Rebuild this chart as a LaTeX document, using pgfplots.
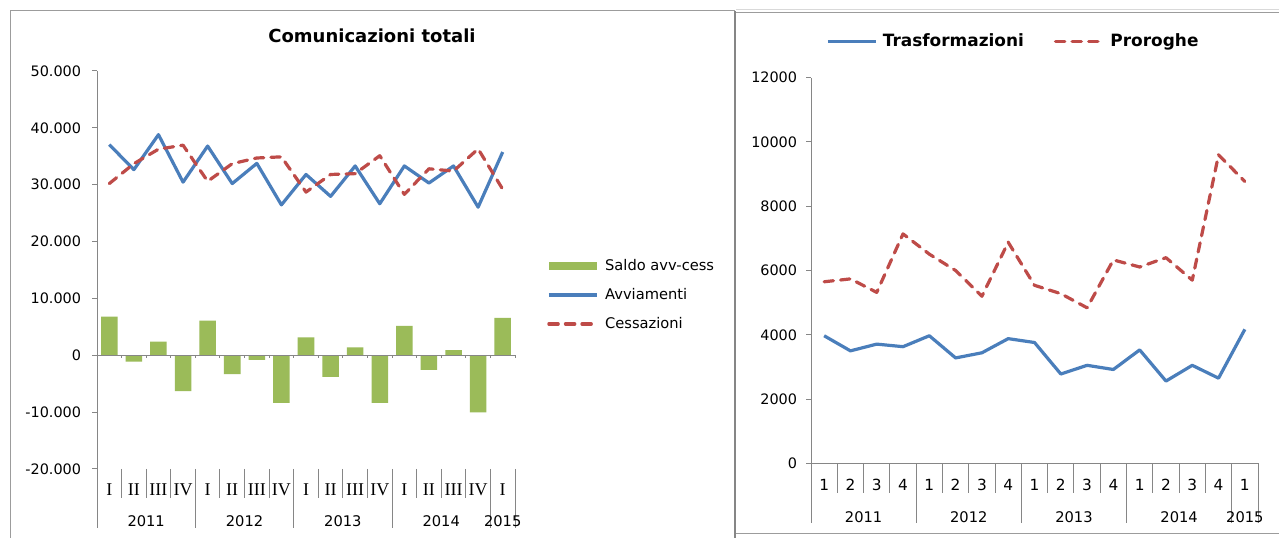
\documentclass[border=0pt]{standalone}
\usepackage{fontspec}
\setmainfont{DejaVu Sans}
\newfontfamily\romanfont{Liberation Serif}
\usepackage{pgfplots}
\pgfplotsset{compat=1.18}

\definecolor{exblue}{HTML}{4A7EBB}
\definecolor{exred}{HTML}{BE4B48}
\definecolor{exgreen}{HTML}{9BBB59}
\definecolor{axisgray}{HTML}{868686}
\definecolor{framegray}{HTML}{9C9C9C}

\pgfplotsset{
  linestyle/.style={line width=2.4pt, line join=round},
  dashstyle/.style={line width=2.4pt, line join=round, line cap=round, dash pattern=on 7pt off 5.4pt},
  lineimg/.style={legend image code/.code={\draw[##1] (0pt,0pt) -- (36pt,0pt);}},
  barimg/.style={legend image code/.code={\fill[exgreen] (0pt,-3pt) rectangle (36pt,3pt);}},
}

\begin{document}
\begin{tikzpicture}
\fill[white] (0,0) rectangle (959.25pt,403.5pt);
\useasboundingbox (0,0) rectangle (959.25pt,403.5pt);

% frames of the two chart areas
\draw[framegray, line width=0.75pt] (7.5pt,0pt) -- (7.5pt,395.25pt) -- (551.6pt,395.25pt);
\draw[gray!30, line width=0.75pt] (552pt,396pt) -- (959.25pt,396pt);
\draw[axisgray, line width=1.5pt] (551.6pt,0pt) -- (551.6pt,395.25pt);
\draw[framegray, line width=0.75pt] (552.3pt,393.75pt) -- (959.25pt,393.75pt);
\draw[framegray, line width=0.75pt] (552.3pt,3pt) -- (959.25pt,3pt);

\node[anchor=base, font=\fontsize{13.5}{16}\selectfont\bfseries] at (279pt,371.25pt) {Comunicazioni totali};

% ---------- left chart ----------
\begin{axis}[
  at={(72.75pt,51.75pt)}, anchor=south west,
  scale only axis, width=313.5pt, height=298.5pt,
  xmin=0.5, xmax=17.5, ymin=-20000, ymax=50000,
  axis x line=none, axis y line*=left,
  axis line style={draw=axisgray, line width=0.75pt},
  xtick=\empty, scaled y ticks=false,
  ytick={-20000,-10000,0,10000,20000,30000,40000,50000},
  yticklabels={-20.000,-10.000,0,10.000,20.000,30.000,40.000,50.000},
  tick align=outside, major tick length=3.75pt,
  tick style={draw=axisgray, line width=0.75pt},
  yticklabel style={font=\fontsize{10.8}{12}\selectfont, anchor=east, inner sep=0pt, xshift=-8pt},
  clip=false,
  legend cell align=left,
  legend style={draw=none, fill=none, at={(1.0766,0.5302)}, anchor=north west,
    inner sep=0pt, row sep=10.25pt,
    nodes={inner sep=0pt, text height=9pt, text depth=2.5pt, font=\fontsize{11}{13}\selectfont},
    /tikz/every odd column/.append style={column sep=5pt}},
]
\addplot[ybar, bar width=12.4pt, fill=exgreen, draw=none, barimg]
  coordinates {(1,6800) (2,-1100) (3,2400) (4,-6300) (5,6100) (6,-3300) (7,-800) (8,-8350)
   (9,3150) (10,-3800) (11,1400) (12,-8350) (13,5150) (14,-2550) (15,900) (16,-10050) (17,6600)};
\addlegendentry{Saldo avv-cess}
\addplot[exblue, linestyle, lineimg]
  coordinates {(1,37050) (2,32650) (3,38800) (4,30450) (5,36800) (6,30200) (7,33750) (8,26450)
   (9,31800) (10,27950) (11,33300) (12,26650) (13,33300) (14,30300) (15,33300) (16,26050) (17,35750)};
\addlegendentry{Avviamenti}
\addplot[exred, dashstyle, lineimg]
  coordinates {(1,30200) (2,33700) (3,36250) (4,36950) (5,30600) (6,33700) (7,34700) (8,34900)
   (9,28700) (10,31800) (11,31950) (12,35100) (13,28300) (14,32800) (15,32400) (16,36300) (17,29200)};
\addlegendentry{Cessazioni}
% zero line with small ticks
\draw[axisgray, line width=0.75pt] (axis cs:0.5,0) -- (axis cs:17.5,0);
\pgfplotsinvokeforeach{0,...,17}{\draw[axisgray, line width=0.75pt] (axis cs:#1.5,0) -- ++(0pt,-2.25pt);}
% category table
\pgfplotsinvokeforeach{1,2,3,5,6,7,9,10,11,13,14,15}{\draw[axisgray, line width=0.75pt] (axis cs:#1.5,-20000) -- (axis cs:#1.5,-25100);}
\pgfplotsinvokeforeach{0,4,8,12,16,17}{\draw[axisgray, line width=0.75pt] (axis cs:#1.5,-20000) -- (axis cs:#1.5,-30465);}
\pgfplotsinvokeforeach{1,5,9,13,17}{\node[anchor=base, font=\romanfont\fontsize{13.5}{15}\selectfont] at (axis cs:#1,-24749) {I};}
\pgfplotsinvokeforeach{2,6,10,14}{\node[anchor=base, font=\romanfont\fontsize{13.5}{15}\selectfont] at (axis cs:#1,-24749) {II};}
\pgfplotsinvokeforeach{3,7,11,15}{\node[anchor=base, font=\romanfont\fontsize{13.5}{15}\selectfont] at (axis cs:#1,-24749) {III};}
\pgfplotsinvokeforeach{4,8,12,16}{\node[anchor=base, font=\romanfont\fontsize{13.5}{15}\selectfont] at (axis cs:#1,-24749) {IV};}
\node[anchor=base, font=\fontsize{11}{13}\selectfont] at (axis cs:2.5,-30201) {2011};
\node[anchor=base, font=\fontsize{11}{13}\selectfont] at (axis cs:6.5,-30201) {2012};
\node[anchor=base, font=\fontsize{11}{13}\selectfont] at (axis cs:10.5,-30201) {2013};
\node[anchor=base, font=\fontsize{11}{13}\selectfont] at (axis cs:14.5,-30201) {2014};
\node[anchor=base, font=\fontsize{11}{13}\selectfont] at (axis cs:17,-30201) {2015};
\end{axis}

% ---------- right chart ----------
\begin{axis}[
  at={(608.25pt,56pt)}, anchor=south west,
  scale only axis, width=335.25pt, height=289.2pt,
  xmin=0.5, xmax=17.5, ymin=0, ymax=12000,
  axis x line*=bottom, axis y line*=left,
  axis line style={draw=axisgray, line width=0.75pt},
  xtick=\empty, scaled y ticks=false,
  ytick={0,2000,4000,6000,8000,10000,12000},
  yticklabels={0,2000,4000,6000,8000,10000,12000},
  tick align=outside, major tick length=3.75pt,
  tick style={draw=axisgray, line width=0.75pt},
  yticklabel style={font=\fontsize{10.8}{12}\selectfont, anchor=east, inner sep=0pt, xshift=-6.5pt},
  clip=false,
  legend columns=2,
  legend style={draw=none, fill=none, at={(0.0336,1.114)}, anchor=north west,
    inner sep=0pt,
    nodes={inner sep=0pt, text height=9pt, text depth=2.5pt, font=\fontsize{12.7}{14}\selectfont\bfseries},
    /tikz/every odd column/.append style={column sep=4pt},
    /tikz/every even column/.append style={column sep=22.5pt}},
]
\addplot[exblue, linestyle, lineimg]
  coordinates {(1,3970) (2,3500) (3,3710) (4,3630) (5,3970) (6,3280) (7,3440) (8,3880)
   (9,3760) (10,2780) (11,3050) (12,2920) (13,3530) (14,2560) (15,3050) (16,2650) (17,4170)};
\addlegendentry{Trasformazioni}
\addplot[exred, dashstyle, lineimg]
  coordinates {(1,5650) (2,5740) (3,5320) (4,7140) (5,6510) (6,6000) (7,5200) (8,6880)
   (9,5540) (10,5280) (11,4840) (12,6330) (13,6110) (14,6400) (15,5700) (16,9600) (17,8770)};
\addlegendentry{Proroghe}
\pgfplotsinvokeforeach{1,2,3,5,6,7,9,10,11,13,14,15}{\draw[axisgray, line width=0.75pt] (axis cs:#1.5,0) -- (axis cs:#1.5,-924);}
\pgfplotsinvokeforeach{0,4,8,12,16,17}{\draw[axisgray, line width=0.75pt] (axis cs:#1.5,0) -- (axis cs:#1.5,-1858);}
\pgfplotsinvokeforeach{1,5,9,13,17}{\node[anchor=base, font=\fontsize{11.5}{13}\selectfont] at (axis cs:#1,-831) {1};}
\pgfplotsinvokeforeach{2,6,10,14}{\node[anchor=base, font=\fontsize{11.5}{13}\selectfont] at (axis cs:#1,-831) {2};}
\pgfplotsinvokeforeach{3,7,11,15}{\node[anchor=base, font=\fontsize{11.5}{13}\selectfont] at (axis cs:#1,-831) {3};}
\pgfplotsinvokeforeach{4,8,12,16}{\node[anchor=base, font=\fontsize{11.5}{13}\selectfont] at (axis cs:#1,-831) {4};}
\node[anchor=base, font=\fontsize{11}{13}\selectfont] at (axis cs:2.5,-1827) {2011};
\node[anchor=base, font=\fontsize{11}{13}\selectfont] at (axis cs:6.5,-1827) {2012};
\node[anchor=base, font=\fontsize{11}{13}\selectfont] at (axis cs:10.5,-1827) {2013};
\node[anchor=base, font=\fontsize{11}{13}\selectfont] at (axis cs:14.5,-1827) {2014};
\node[anchor=base, font=\fontsize{11}{13}\selectfont] at (axis cs:17,-1827) {2015};
\end{axis}
\end{tikzpicture}
\end{document}
